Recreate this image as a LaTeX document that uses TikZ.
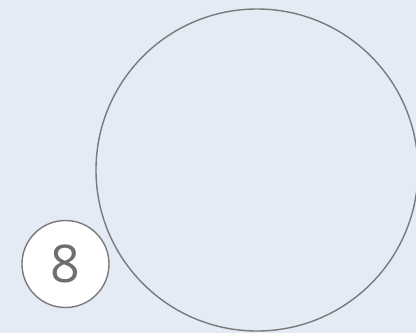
\documentclass[tikz,border=0pt]{standalone}
\usepackage{fontspec}
\setmainfont{Open Sans}
\definecolor{bgc}{HTML}{E4EBF5}
\definecolor{linec}{HTML}{7A7A7A}
\definecolor{txtc}{HTML}{6E6E6E}
\begin{document}
\begin{tikzpicture}[x=1pt,y=-1pt,
  ring/.style={draw=linec,line width=1.4pt,circle,inner sep=0pt},
  badge/.style={ring,fill=white,text=txtc,font=\fontsize{52}{52}\selectfont}]
\useasboundingbox (0,0) rectangle (416,333);
\clip (0,0) rectangle (416,333);
\fill[bgc] (0,0) rectangle (416,333);
\node[ring,minimum size=322pt] (big) at (257,170) {};
\node[badge,minimum size=87pt] (num) at (65.5,264) {8};
\end{tikzpicture}
\end{document}
